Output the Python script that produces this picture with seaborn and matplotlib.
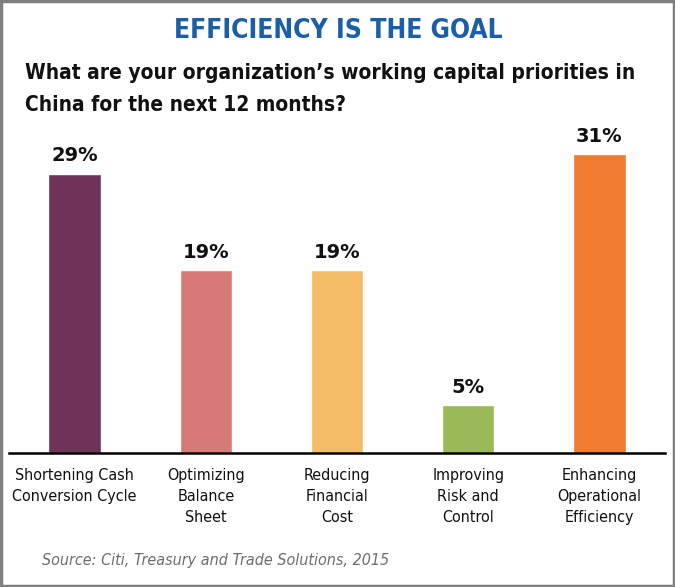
import matplotlib
matplotlib.use("Agg")
import matplotlib.pyplot as plt
import seaborn as sns
import pandas as pd

categories = ["Shortening Cash\nConversion Cycle", "Optimizing\nBalance\nSheet",
              "Reducing\nFinancial\nCost", "Improving\nRisk and\nControl",
              "Enhancing\nOperational\nEfficiency"]
values = [29, 19, 19, 5, 31]
colors = ["#6e3356", "#d57a77", "#f5bc68", "#9aba57", "#f07c32"]
title = "EFFICIENCY IS THE GOAL"
subtitle = "What are your organization\u2019s working capital priorities in\nChina for the next 12 months?"
source = "Source: Citi, Treasury and Trade Solutions, 2015"

sns.set_style("white")
plt.rcParams["font.family"] = ["DejaVu Sans"]

cond = dict(family="DejaVu Sans", stretch="condensed")

df = pd.DataFrame({"cat": categories, "val": values})

fig = plt.figure(figsize=(6.75, 5.87), dpi=100)
ax = fig.add_axes([9/675, 134/587, 656/675, 313/587])
sns.barplot(data=df, x="cat", y="val", hue="cat", palette=colors, legend=False,
            width=0.40, saturation=1, ax=ax)
ax.set_xlim(-0.5, 4.5)
ax.set_ylim(0, 32.5)
for s in ["left", "right", "top"]:
    ax.spines[s].set_visible(False)
ax.spines["bottom"].set_color("black")
ax.spines["bottom"].set_linewidth(1.8)
ax.set_yticks([])
ax.set_xlabel("")
ax.set_ylabel("")
ax.set_xticks(range(len(categories)))
ax.set_xticklabels(categories, fontsize=11.5, color="#111111", **cond)
for t in ax.get_xticklabels():
    t.set_linespacing(1.5)
ax.tick_params(axis="x", length=0, pad=11)
ax.set_xticks([0.5, 1.5, 2.5, 3.5], minor=True)
ax.tick_params(axis="x", which="minor", length=5, width=1.8, direction="out", color="black")

for i, v in enumerate(values):
    ax.annotate(f"{v}%", (i, v), xytext=(0, 6), textcoords="offset points",
                ha="center", va="bottom", fontsize=14, fontweight="bold", color="#111111")

fig.text(338/675, 1 - 31/587, title, ha="center", va="center", fontsize=19,
         fontweight="bold", color="#1b5faa", **cond)
fig.text(25/675, 1 - 89/587, subtitle, ha="left", va="center", fontsize=15,
         fontweight="bold", color="#111111", linespacing=1.75, **cond)
fig.text(42/675, 1 - 560/587, source, ha="left", va="center", fontsize=11.5,
         style="italic", color="#6d6e71", **cond)

border = plt.Rectangle((0.002, 0.002), 0.996, 0.996, transform=fig.transFigure,
                       fill=False, edgecolor="#7f7f7f", linewidth=2.5)
fig.patches.append(border)

fig.savefig("out.png", dpi=100)
